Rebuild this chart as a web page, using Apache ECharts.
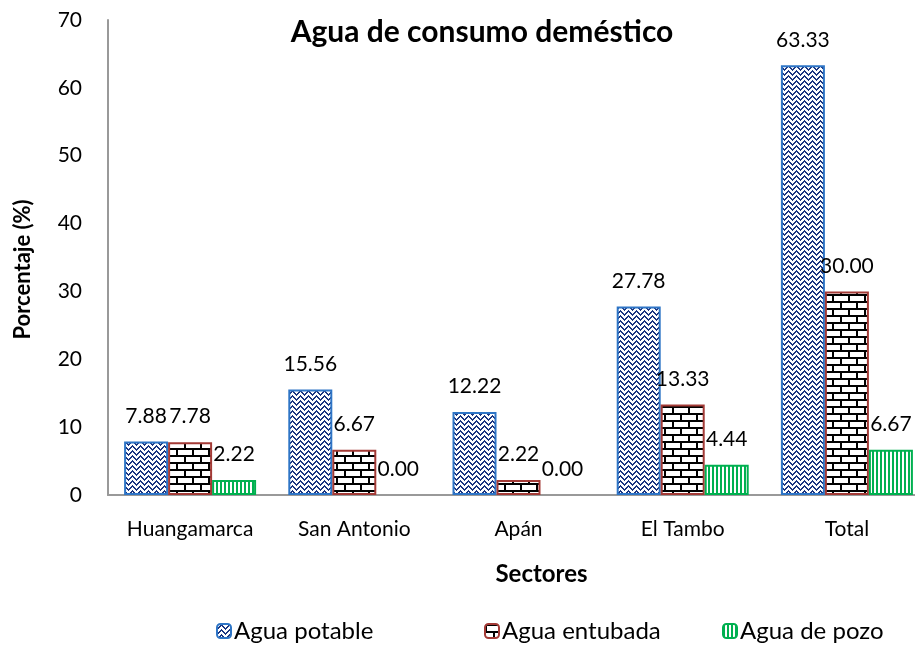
<!DOCTYPE html>
<html>
<head>
<meta charset="utf-8">
<script src="https://cdn.jsdelivr.net/npm/echarts@6/dist/echarts.min.js"></script>
<style>
  html, body { margin: 0; padding: 0; background: #fff; }
  #chart { width: 915px; height: 646px; }
</style>
</head>
<body>
<div id="chart"></div>
<script>
const sectores = ['Huangamarca', 'San Antonio', 'Apán', 'El Tambo', 'Total']
const potable = [7.88, 15.56, 12.22, 27.78, 63.33]
const entubada = [7.78, 6.67, 2.22, 13.33, 30.00]
const pozo = [2.22, 0.00, 0.00, 4.44, 6.67]
const yTicks = [0, 10, 20, 30, 40, 50, 60, 70]
const seriesNames = ['Agua potable', 'Agua entubada', 'Agua de pozo']

const FONT = 'Lato, "Open Sans", sans-serif'

// zigzag weave pattern (navy on white)
function zigzag() {
  const c = document.createElement('canvas')
  c.width = 8; c.height = 5
  const g = c.getContext('2d')
  g.fillStyle = '#fff'; g.fillRect(0, 0, 8, 5)
  g.fillStyle = '#1b3580'
  for (let x = 0; x < 8; x++) {
    const y = Math.abs(x - 4)
    g.fillRect(x, y, 1, 1)
    g.fillRect(x, (y + 1) % 5, 1, 1)
  }
  return c
}

// brick pattern (black on white)
function bricks() {
  const c = document.createElement('canvas')
  c.width = 16; c.height = 14
  const g = c.getContext('2d')
  g.fillStyle = '#fff'; g.fillRect(0, 0, 16, 14)
  g.fillStyle = '#000'
  g.fillRect(0, 0, 16, 2)
  g.fillRect(0, 7, 16, 2)
  g.fillRect(0, 0, 2, 7)
  g.fillRect(8, 7, 2, 7)
  return c
}

// vertical stripes (green on white)
function stripes() {
  const c = document.createElement('canvas')
  c.width = 4; c.height = 4
  const g = c.getContext('2d')
  g.fillStyle = '#fff'; g.fillRect(0, 0, 4, 4)
  g.fillStyle = '#00b050'
  g.fillRect(0, 0, 2, 4)
  return c
}

const chart = echarts.init(document.getElementById('chart'), null, { renderer: 'canvas' })

function makeSeries(name, data, img, border) {
  return {
    name: name,
    type: 'bar',
    // zero bars: no outline, like Excel
    data: data.map(v => v === 0 ? { value: v, itemStyle: { borderWidth: 0 } } : v),
    barWidth: 44,
    barGap: '0%',
    itemStyle: {
      color: { image: img, repeat: 'repeat' },
      borderColor: border,
      borderWidth: 2
    },
    label: {
      show: true,
      position: 'top',
      distance: 15,
      fontFamily: FONT,
      fontSize: 21,
      color: '#000',
      formatter: p => p.value.toFixed(2)
    }
  }
}

function legendAt(name, left) {
  return {
    left: left,
    top: 619,
    padding: 0,
    itemWidth: 14,
    itemHeight: 14,
    itemGap: 6,
    textStyle: { fontFamily: FONT, fontSize: 24, color: '#000', padding: [0, 0, 0, -2] },
    data: [name]
  }
}

chart.setOption({
  animation: false,
  title: {
    text: 'Agua de consumo deméstico',
    left: 477,
    top: 12,
    textAlign: 'center',
    textStyle: { fontFamily: FONT, fontSize: 30, fontWeight: 'bold', color: '#000' }
  },
  grid: { left: 108, top: 20, width: 821, height: 475, outerBoundsMode: 'none' },
  legend: [
    legendAt(seriesNames[0], 216),
    legendAt(seriesNames[1], 484),
    legendAt(seriesNames[2], 722)
  ],
  xAxis: {
    type: 'category',
    data: sectores,
    name: 'Sectores',
    nameLocation: 'middle',
    nameGap: 67,
    nameTextStyle: { fontFamily: FONT, fontSize: 24, fontWeight: 'bold', color: '#000', padding: [0, 0, 0, 46] },
    axisLine: { lineStyle: { color: '#999', width: 2 } },
    axisTick: { show: false },
    axisLabel: { interval: 0, fontFamily: FONT, fontSize: 21, color: '#000', margin: 24 }
  },
  yAxis: {
    type: 'value',
    min: yTicks[0],
    max: yTicks[yTicks.length - 1],
    interval: 10,
    name: 'Porcentaje (%)',
    nameLocation: 'middle',
    nameGap: 74,
    nameTextStyle: { fontFamily: FONT, fontSize: 22, fontWeight: 'bold', color: '#000', padding: [0, 24, 0, 0] },
    axisLine: { show: true, lineStyle: { color: '#999', width: 2 } },
    axisTick: { show: false },
    splitLine: { show: false },
    axisLabel: { fontFamily: FONT, fontSize: 21, color: '#000', margin: 26 }
  },
  series: [
    makeSeries(seriesNames[0], potable, zigzag(), '#2e75c6'),
    makeSeries(seriesNames[1], entubada, bricks(), '#a33a36'),
    makeSeries(seriesNames[2], pozo, stripes(), '#00b050')
  ]
})
</script>
</body>
</html>
